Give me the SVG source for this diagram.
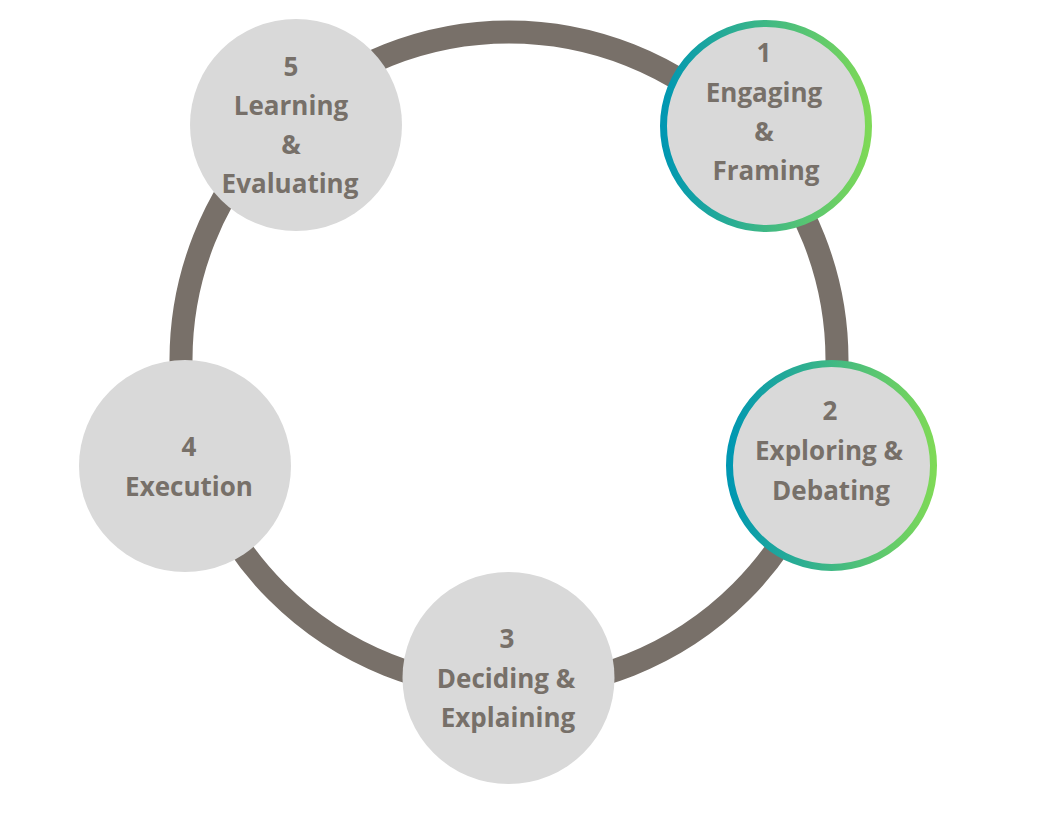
<svg xmlns="http://www.w3.org/2000/svg" width="1044" height="820" viewBox="0 0 1044 820">
<defs>
<linearGradient id="g" x1="0" y1="0" x2="1" y2="0">
<stop offset="0" stop-color="#0097b2"/>
<stop offset="1" stop-color="#7ed957"/>
</linearGradient>
<style>
.ring{fill:none;stroke:#787069;stroke-width:23}
.node{fill:#d9d9d9}
.hl{stroke:url(#g);stroke-width:7}
text{font-family:"Open Sans","Noto Sans","Liberation Sans",sans-serif;font-weight:bold;font-size:26px;fill:#777069;text-anchor:middle}
</style>
</defs>
<rect width="1044" height="820" fill="#fff"/>
<g id="connectors">
<circle class="ring" cx="509" cy="360" r="328"/>
</g>
<g id="node5">
<circle class="node" cx="296" cy="125" r="106"/>
<text x="291" y="76">5</text>
<text x="291" y="115">Learning</text>
<text x="291" y="154">&amp;</text>
<text x="290" y="193">Evaluating</text>
</g>
<g id="node1">
<circle class="node hl" cx="766" cy="126" r="102.5"/>
<text x="764" y="62">1</text>
<text x="764" y="102">Engaging</text>
<text x="764" y="141">&amp;</text>
<text x="766" y="180">Framing</text>
</g>
<g id="node2">
<circle class="node hl" cx="831.5" cy="465.5" r="102"/>
<text x="830" y="420">2</text>
<text x="829" y="460">Exploring &amp;</text>
<text x="831" y="500">Debating</text>
</g>
<g id="node3">
<circle class="node" cx="508.5" cy="678" r="106"/>
<text x="507" y="648">3</text>
<text x="506" y="688">Deciding &amp;</text>
<text x="508" y="727">Explaining</text>
</g>
<g id="node4">
<circle class="node" cx="185" cy="466" r="106"/>
<text x="189" y="456">4</text>
<text x="189" y="496">Execution</text>
</g>
</svg>
